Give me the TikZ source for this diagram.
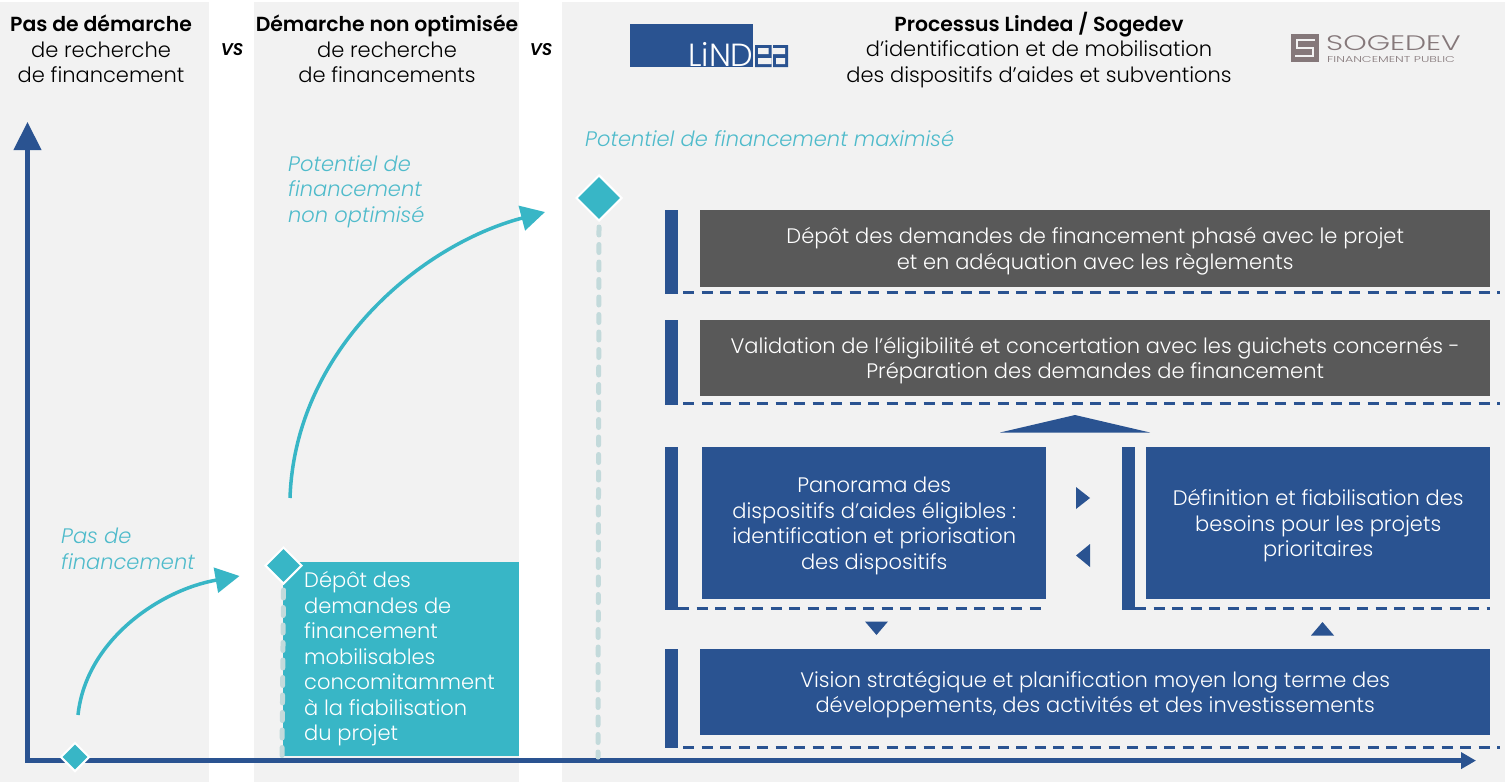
\documentclass[tikz,border=0pt]{standalone}
\usepackage{fontspec}
\setmainfont{Poppins}[UprightFont=* Light,ItalicFont=* Light Italic,BoldFont=* SemiBold,BoldItalicFont=* SemiBold Italic]
\usetikzlibrary{arrows.meta,shapes.geometric}
\definecolor{panel}{HTML}{F2F2F2}
\definecolor{navy}{HTML}{2A5391}
\definecolor{teal}{HTML}{38B6C6}
\definecolor{tealtxt}{HTML}{4FBBCB}
\definecolor{slate}{HTML}{595959}
\definecolor{pale}{HTML}{C3DADB}
\definecolor{sog}{HTML}{85787A}
\newcommand{\bodysize}{\fontsize{21}{25.5}\selectfont}
\newcommand{\headbf}[1]{{\fontsize{20.4}{25.5}\selectfont\bfseries #1}}
\tikzset{
  x=1pt,y=-1pt,
  txt/.style={inner sep=0,align=center,font=\bodysize},
  rowtxt/.style={txt,text=white},
  cyan note/.style={inner sep=0,align=left,anchor=north west,text=tealtxt,font=\bodysize\itshape},
  vs/.style={inner sep=0,font=\fontsize{17}{18}\selectfont\bfseries\itshape,text=black},
  bar/.style={fill=navy,draw=none},
  gbox/.style={fill=slate,draw=none,inner sep=0,minimum width=790,minimum height=#1,anchor=north west},
  bbox/.style={fill=navy,draw=none,inner sep=0,minimum width=#1,anchor=north west},
  dashln/.style={navy,line width=3,dash pattern=on 11 off 7.5},
  tip/.style={fill=navy,draw=none},
  dia/.style={diamond,fill=teal,draw=white,line width=2,inner sep=0,aspect=1,minimum size=#1},
  stem/.style={pale,line width=5,line cap=round,dash pattern=on 8 off 9.5},
  curve/.style={teal,line width=3.5,-{Triangle[length=24,width=25]}},
  axis/.style={navy,line width=4.3}
}
\begin{document}
\begin{tikzpicture}
\useasboundingbox (0,0) rectangle (1505,782);
\fill[white] (0,0) rectangle (1505,782);
\fill[panel] (0,2) rectangle (209,782);
\fill[panel] (254,2) rectangle (519,782);
\fill[panel] (562,2) rectangle (1505,782);

% headers
\node[txt] (h1) at (101,49) {\headbf{Pas de démarche}\\de recherche\\de financement};
\node[vs] (vs1) at (232,50) {VS};
\node[txt] (h2) at (387,49) {\headbf{Démarche non optimisée}\\de recherche\\de financements};
\node[vs] (vs2) at (541,50) {VS};
\node[txt] (h3) at (1039,50) {\headbf{Processus Lindea / Sogedev}\\d’identification et de mobilisation\\des dispositifs d’aides et subventions};

% Lindea logo
\fill[navy] (630,24) rectangle (753,67);
\node[inner sep=0,anchor=base west,text=white,font=\fontsize{32}{32}\selectfont] (lg) at (688,66) {LiND};
\fill[navy] (755,45) rectangle (771.5,67) (773,45) rectangle (788,67);
\fill[panel] (758,48) rectangle (768.5,54) (758,58) rectangle (771.5,64)
             (773,48) rectangle (785,54) (776,58) rectangle (785,64);
% Sogedev logo
\fill[sog] (1291,34) rectangle (1319,62);
\draw[panel,line width=1.8] (1315,40) -- (1297,40) -- (1297,48) -- (1313,48) -- (1313,56) -- (1295,56);
\node[inner sep=0,anchor=base west,text=sog,font=\fontsize{21}{21}\selectfont] (sg) at (1326,50) {\scalebox{1.42}[1]{SOGEDEV}};
\node[inner sep=0,anchor=base west,text=sog,font=\fontsize{8.5}{9}\selectfont] (sg2) at (1327,62) {\scalebox{1.49}[1]{FINANCEMENT PUBLIC}};

% notes
\node[cyan note] (n1) at (61,528) {Pas de\\financement};
\node[cyan note] (n2) at (288,155.5) {Potentiel de\\financement\\non optimisé};
\node[cyan note] (n3) at (585,130) {Potentiel de financement maximisé};

% axes
\coordinate (o) at (27.5,761);
\coordinate (ytop) at (27.5,122);
\coordinate (xend) at (1476,760.6);
\draw[axis,-{Triangle[length=28,width=27]}] (o) -- (ytop);
\draw[axis,-{Triangle[length=15,width=16]}] (25.4,760.6) -- (xend);

% teal box
\node[fill=teal,inner sep=0,minimum width=236,minimum height=194,anchor=north west] (tb) at (283,562) {};
\node[inner sep=0,anchor=north west,align=left,text=white,font=\bodysize] (tbt) at (304,571.5) {Dépôt des\\demandes de\\financement\\mobilisables\\concomitamment\\à la fiabilisation\\du projet};

% stems and diamonds
\coordinate (s1) at (282,757);
\coordinate (s2) at (598,757);
\node[dia=37] (d2) at (283.5,565.5) {};
\node[dia=46] (d3) at (599,198) {};
\draw[stem] ([yshift=-5pt]d2.south) -- (s1);
\draw[stem] ([yshift=-5pt]d3.south) -- (s2);
\node[dia=29] (d1) at (75,757) {};

% curved arrows
\coordinate (a1) at (78,715);
\coordinate (a2) at (239.5,576);
\coordinate (b1) at (290,498);
\coordinate (b2) at (545,212);
\draw[curve] (a1) .. controls (86,640) and (160,590) .. (a2);
\draw[curve] (b1) .. controls (295,350) and (420,245) .. (b2);

% rows
\fill[bar] (665,210) rectangle (678,294);
\node[gbox=77] (r1) at (700,210) {};
\node[rowtxt] (r1t) at ([yshift=-2.5pt]r1.center) {Dépôt des demandes de financement phasé avec le projet\\et en adéquation avec les règlements};
\coordinate (r1a) at (683,292); \coordinate (r1b) at (1500,292);
\draw[dashln] (r1a) -- (r1b);

\fill[bar] (665,320) rectangle (678,405);
\node[gbox=76] (r2) at (700,320) {};
\node[rowtxt] (r2t) at ([yshift=-2.5pt]r2.center) {Validation de l’éligibilité et concertation avec les guichets concernés -\\Préparation des demandes de financement};
\coordinate (r2a) at (683,403); \coordinate (r2b) at (1500,403);
\draw[dashln] (r2a) -- (r2b);

\fill[tip] (1000,432.5) -- (1150,432.5) -- (1075,415) -- cycle;

\fill[bar] (665,447) rectangle (678,610);
\node[bbox=344,minimum height=152] (r3) at (702,447) {};
\node[rowtxt] (r3t) at ([yshift=-2.5pt]r3.center) {Panorama des\\dispositifs d’aides éligibles :\\identification et priorisation\\des dispositifs};
\coordinate (r3a) at (678,608); \coordinate (r3b) at (1045,608);
\draw[dashln] (r3a) -- (r3b);

\fill[bar] (1122,447) rectangle (1135,610);
\node[bbox=344,minimum height=152] (r4) at (1146,447) {};
\node[rowtxt] (r4t) at ([yshift=-2.5pt]r4.center) {Définition et fiabilisation des\\besoins pour les projets\\prioritaires};
\coordinate (r4a) at (1135,608); \coordinate (r4b) at (1490,608);
\draw[dashln] (r4a) -- (r4b);

\fill[tip] (1076,487) -- (1090,498) -- (1076,509) -- cycle;
\fill[tip] (1090,544) -- (1076,555.5) -- (1090,567) -- cycle;
\fill[tip] (865,621.5) -- (888,621.5) -- (876.5,635) -- cycle;
\fill[tip] (1311,635.5) -- (1334,635.5) -- (1322.5,622) -- cycle;

\fill[bar] (665,649) rectangle (678,748);
\node[bbox=790,minimum height=86] (r5) at (700,649) {};
\node[rowtxt] (r5t) at ([yshift=-2.5pt]r5.center) {Vision stratégique et planification moyen long terme des\\développements, des activités et des investissements};
\coordinate (r5a) at (683,747); \coordinate (r5b) at (1500,747);
\draw[dashln] (r5a) -- (r5b);
\end{tikzpicture}
\end{document}
